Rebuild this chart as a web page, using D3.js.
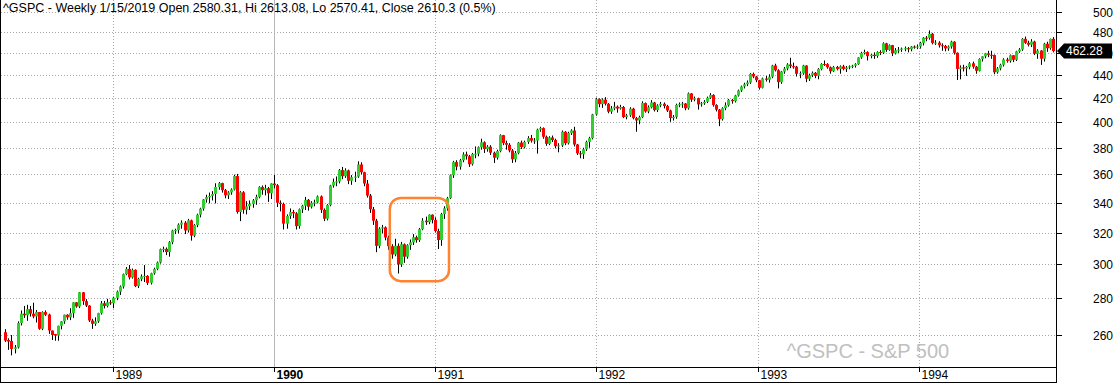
<!DOCTYPE html>
<html>
<head>
<meta charset="utf-8">
<script src="https://cdn.jsdelivr.net/npm/d3@7"></script>
<style>
body { margin: 0; background: #fff; }
svg { display: block; }
text { font-family: "Liberation Sans", Arial, sans-serif; }
</style>
</head>
<body>
<svg id="chart" width="1117" height="383"></svg>
<script>
// weekly bars, first bar is the week of May 2 1988
var firstWeek = new Date(1988, 4, 2)

var opens = [
261.5,257.4,256.9,252.8,253.6,266.4,271.5,270.6,274.0,271.5,
270.0,272.4,263.3,272.4,271.0,262.4,260.5,259.7,264.9,267.3,
270.9,269.5,271.8,277.8,275.5,283.5,278.5,276.0,267.8,266.0,
267.3,271.8,277.3,275.8,277.8,
277.3,280.4,283.9,286.9,294.1,297.3,292.2,296.7,287.1,291.3,
292.8,293.1,289.0,294.7,297.3,301.2,309.4,309.6,307.6,313.8,
321.3,321.6,325.2,326.5,321.4,328.0,318.0,324.9,331.8,335.9,
342.2,343.9,344.7,346.0,351.0,353.7,348.7,345.1,347.1,349.2,
358.8,333.6,347.2,335.1,337.5,339.1,341.6,344.0,351.0,348.7,
350.1,346.5,
353.4,352.2,339.9,339.1,325.8,330.9,333.6,332.7,324.2,335.5,
337.9,341.9,337.2,339.9,340.1,344.3,335.1,329.1,338.4,352.0,
354.6,354.9,363.2,358.7,362.9,355.4,358.0,358.4,367.3,361.6,
353.4,344.9,335.5,327.8,311.5,322.6,323.4,316.8,311.3,306.1,
311.5,300.0,312.5,304.7,311.9,313.7,317.0,315.1,322.2,327.8,
326.8,331.8,
328.3,321.0,315.2,332.2,336.1,343.1,359.4,369.1,365.7,370.5,
374.9,373.5,367.5,375.2,375.4,380.4,384.2,379.0,380.8,376.2,
372.4,377.5,389.8,383.6,382.3,377.9,371.2,376.0,384.0,380.5,
384.5,387.5,385.5,385.6,394.2,395.4,388.5,383.0,388.0,386.0,
381.2,381.8,392.5,383.5,391.5,393.5,382.5,375.7,375.0,378.8,
384.5,387.5,
406.5,419.3,415.1,418.9,415.4,408.8,411.5,413.0,411.4,412.7,
404.4,405.8,411.3,403.5,401.6,404.3,416.0,409.0,412.5,416.5,
410.1,414.0,415.4,413.5,409.8,403.5,404.5,414.5,415.0,415.6,
411.6,424.2,418.9,420.1,414.9,415.8,417.1,420.5,422.9,414.4,
410.5,402.7,411.7,414.1,418.7,417.6,422.4,426.7,430.2,432.1,
433.7,441.3,439.0,
435.7,429.1,437.2,436.1,438.8,448.9,444.6,434.0,443.4,446.1,
449.8,448.3,447.8,441.4,441.8,448.9,437.0,440.2,442.3,439.6,
445.8,450.2,450.1,447.3,443.7,447.6,445.8,448.1,445.8,447.1,
448.1,448.7,450.1,456.2,460.5,461.3,457.5,458.8,457.6,461.3,
460.7,469.5,463.3,467.8,460.0,463.0,463.5,464.5,464.9,463.9,
466.4,466.0,
466.5,469.9,474.9,474.7,478.7,469.8,470.2,467.7,467.0,464.7,
466.4,471.1,460.6,445.8,447.1,446.2,447.6,450.9,447.8,444.1,
454.9,457.3,460.1,458.7,458.5,442.8,446.2,449.6,454.4,453.1,
458.3,454.1,461.9,463.7,473.8,470.0,468.2,471.2,459.7,462.7,
455.1,469.1,464.9,473.8
]

var highs = [
263.1,258.3,260.0,254.8,267.3,273.3,275.8,276.4,275.8,277.6,
273.5,272.4,272.8,273.3,271.5,262.4,260.6,265.0,267.5,271.0,
271.2,274.5,277.9,278.0,283.7,283.7,279.6,276.2,268.7,269.5,
272.0,278.6,278.6,279.8,279.1,
281.0,284.5,287.5,294.5,298.4,299.6,297.5,297.0,292.0,294.0,
299.6,293.5,295.0,298.0,301.8,309.8,311.0,310.5,314.5,321.8,
322.5,326.0,328.0,327.5,329.0,328.5,325.5,332.5,336.5,342.5,
345.5,347.0,348.0,353.6,354.5,354.0,349.5,348.0,350.0,359.8,
360.4,348.0,348.0,341.0,341.5,342.5,345.5,351.5,352.0,352.5,
351.0,353.6,
359.7,353.0,341.5,340.0,332.0,336.0,335.0,333.5,336.0,338.5,
344.0,342.5,341.0,342.0,345.0,345.0,336.0,339.0,352.5,357.0,
358.5,364.0,365.5,364.5,363.5,359.5,362.0,369.7,369.0,362.0,
356.0,346.0,337.0,329.0,323.5,325.0,324.0,318.0,312.5,316.0,
313.0,314.0,313.0,312.5,315.5,319.0,318.0,323.0,329.5,330.5,
332.0,332.0,
330.0,322.5,333.0,337.5,344.0,360.0,370.0,370.5,371.5,376.5,
377.0,374.5,376.0,381.0,381.0,387.0,385.0,382.0,382.0,377.0,
378.5,390.5,390.0,385.5,383.5,379.0,377.5,384.5,385.5,385.5,
389.0,390.0,387.5,395.0,396.5,396.0,389.5,389.0,389.5,387.0,
383.5,393.5,393.0,392.5,394.5,396.5,383.0,377.5,380.0,385.5,
388.5,407.0,
420.5,420.0,420.0,421.0,416.0,413.5,417.0,414.0,414.5,413.5,
407.0,412.5,412.0,404.5,405.5,417.5,416.5,414.0,418.5,417.0,
415.0,417.0,416.5,414.5,410.5,406.0,415.5,416.5,417.0,416.0,
425.0,424.5,421.5,420.5,417.0,418.5,421.5,424.5,423.5,415.0,
411.0,412.5,416.5,419.5,419.5,423.0,427.5,431.0,433.5,435.5,
442.0,442.5,439.5,
436.0,438.0,439.5,441.0,449.5,450.5,445.5,444.0,447.5,451.0,
456.0,451.5,448.5,443.5,449.5,449.0,441.5,443.5,443.0,446.5,
451.0,453.5,451.0,448.0,448.5,448.5,449.0,449.5,448.5,449.0,
449.5,451.0,456.5,461.5,463.5,462.0,459.5,461.0,462.0,463.0,
470.5,470.0,468.5,468.0,465.0,466.0,465.5,466.5,466.0,467.0,
467.5,468.5,
471.0,475.5,476.5,482.0,479.5,472.5,471.5,469.5,468.0,467.5,
472.0,471.5,461.0,449.0,449.5,448.5,452.0,452.5,448.5,455.5,
457.5,460.5,462.5,462.5,459.0,447.5,450.5,455.5,456.0,459.0,
458.5,462.5,465.0,474.5,476.0,472.0,473.5,472.0,464.0,463.0,
470.0,471.0,474.0,475.5
]

var lows = [
256.4,252.3,249.5,250.5,253.0,265.1,269.2,267.6,269.9,269.0,
266.7,262.8,262.6,270.2,260.6,257.4,257.0,257.0,263.0,266.0,
268.2,268.0,269.2,274.8,274.6,276.4,275.2,267.0,263.3,264.9,
266.5,271.0,274.4,275.0,276.4,
274.5,279.0,282.0,285.7,293.5,291.0,291.5,286.5,286.0,290.0,
289.5,287.8,288.0,293.8,296.5,300.5,307.5,305.7,304.7,312.5,
319.0,319.5,322.5,319.0,320.0,314.8,317.0,323.5,330.0,334.5,
340.0,339.5,341.5,339.5,349.0,347.0,343.0,342.5,345.5,348.5,
332.5,327.5,332.5,332.0,335.0,336.5,338.5,343.0,345.5,345.0,
340.5,342.5,
350.0,337.0,334.0,322.0,322.5,329.0,329.5,322.0,322.5,333.0,
335.0,334.5,336.0,337.5,339.5,333.0,327.5,328.0,337.5,350.5,
351.5,353.5,356.5,357.5,353.0,352.5,354.5,357.5,360.0,351.5,
343.5,333.0,325.0,307.5,310.0,319.5,315.0,309.0,303.5,305.0,
294.5,298.5,301.0,303.5,309.0,312.0,313.5,314.0,321.5,325.0,
325.5,326.0,
320.0,309.5,311.5,329.0,334.5,342.5,357.5,363.0,363.5,369.0,
371.0,365.5,366.5,372.0,373.5,378.5,376.0,377.0,374.5,368.5,
371.0,376.5,382.0,378.5,376.5,368.5,369.0,375.0,379.0,379.5,
383.0,384.0,383.0,375.5,392.5,387.0,381.5,382.0,384.5,379.5,
376.5,380.5,382.0,382.5,390.0,381.0,374.5,372.0,371.5,377.5,
380.0,386.5,
405.5,412.5,412.0,414.0,407.5,407.0,410.0,408.0,410.5,403.5,
402.5,404.5,402.5,392.5,398.5,403.5,408.0,407.5,411.5,409.0,
408.5,412.5,411.5,408.5,400.5,401.5,403.0,412.5,412.0,410.0,
410.5,417.0,417.5,410.5,413.0,414.5,416.0,419.5,413.0,409.0,
397.0,401.5,410.0,413.0,415.5,416.5,421.5,425.5,428.5,430.5,
432.5,437.5,434.0,
427.5,428.5,434.5,433.5,437.5,443.5,428.5,432.5,441.5,444.5,
446.5,446.0,439.0,437.5,440.5,434.0,435.0,438.5,437.5,436.5,
444.5,448.5,446.0,441.5,443.0,444.5,441.5,444.5,443.0,445.5,
446.5,447.0,449.5,455.0,459.0,453.5,455.5,455.0,456.0,458.5,
459.5,461.5,462.5,457.5,459.0,460.5,461.5,462.0,461.0,462.0,
464.5,464.0,
464.5,467.5,471.5,473.0,468.5,468.0,465.5,462.5,462.0,462.5,
464.5,459.0,435.9,436.5,443.5,439.5,445.5,446.0,441.5,443.5,
452.5,455.5,456.5,455.0,441.0,441.5,444.5,448.0,451.5,451.5,
452.0,453.0,460.5,462.5,469.0,466.5,466.0,458.5,455.0,449.5,
452.5,461.5,463.5,461.0
]

var closes = [
257.1,256.6,252.8,253.6,266.4,271.5,270.6,274.0,271.5,270.0,
272.4,263.3,272.4,270.9,262.4,260.0,259.7,264.9,267.3,270.9,
269.5,271.8,277.8,275.5,283.5,278.5,276.0,267.8,266.0,267.3,
271.8,277.3,275.8,277.8,277.3,
280.4,283.9,286.9,294.1,297.3,292.2,296.7,287.1,291.3,292.8,
293.1,289.0,294.7,297.3,301.2,309.4,309.6,307.6,313.8,321.3,
321.6,325.2,326.5,321.4,328.0,318.0,324.9,331.8,335.9,342.2,
343.9,344.7,346.0,351.0,353.7,348.7,345.1,347.1,349.2,358.8,
333.6,347.2,335.1,337.5,339.1,341.6,344.0,351.0,348.7,350.1,
346.5,353.4,
352.2,339.9,339.1,325.8,330.9,333.6,332.7,324.2,335.5,337.9,
341.9,337.2,339.9,340.1,344.3,335.1,329.1,338.4,352.0,354.6,
354.9,363.2,358.7,362.9,355.4,358.0,358.4,367.3,361.6,353.4,
344.9,335.5,327.8,311.5,322.6,323.4,316.8,311.3,306.1,311.5,
300.0,312.5,304.7,311.9,313.7,317.0,315.1,322.2,327.8,326.8,
331.8,328.3,
321.0,315.2,332.2,336.1,343.1,359.4,369.1,365.7,370.5,374.9,
373.5,367.5,375.2,375.4,380.4,384.2,379.0,380.8,376.2,372.4,
377.5,389.8,383.6,382.3,377.9,371.2,376.0,384.0,380.5,384.5,
387.5,385.5,385.6,394.2,395.4,388.5,383.0,388.0,386.0,381.2,
381.8,392.5,383.5,391.5,393.5,382.5,375.7,375.0,378.8,384.5,
387.5,406.5,
419.3,415.1,418.9,415.4,408.8,411.5,413.0,411.4,412.7,404.4,
405.8,411.3,403.5,401.6,404.3,416.0,409.0,412.5,416.5,410.1,
414.0,415.4,413.5,409.8,403.5,404.5,414.5,415.0,415.6,411.6,
424.2,418.9,420.1,414.9,415.8,417.1,420.5,422.9,414.4,410.5,
402.7,411.7,414.1,418.7,417.6,422.4,426.7,430.2,432.1,433.7,
441.3,439.0,435.7,
429.1,437.2,436.1,438.8,448.9,444.6,434.0,443.4,446.1,449.8,
448.3,447.8,441.4,441.8,448.9,437.0,440.2,442.3,439.6,445.8,
450.2,450.1,447.3,443.7,447.6,445.8,448.1,445.8,447.1,448.1,
448.7,450.1,456.2,460.5,461.3,457.5,458.8,457.6,461.3,460.7,
469.5,463.3,467.8,460.0,463.0,463.5,464.5,464.9,463.9,466.4,
466.0,466.5,
469.9,474.9,474.7,478.7,469.8,470.2,467.7,467.0,464.7,466.4,
471.1,460.6,445.8,447.1,446.2,447.6,450.9,447.8,444.1,454.9,
457.3,460.1,458.7,458.5,442.8,446.2,449.6,454.4,453.1,458.3,
454.1,461.9,463.7,473.8,470.0,468.2,471.2,459.7,462.7,455.1,
469.1,464.9,473.8,462.28
]

var priceTicks = [260, 280, 300, 320, 340, 360, 380, 400, 420, 440, 460, 480, 500]
var yearTicks = [1989, 1990, 1991, 1992, 1993, 1994]
var lastPrice = 462.28
var titleText = "^GSPC - Weekly 1/15/2019 Open 2580.31, Hi 2613.08, Lo 2570.41, Close 2610.3 (0.5%)"
var watermarkText = "^GSPC - S&P 500"
// highlighted area (dates and price range)
var boxDates = [new Date(1990, 8, 20), new Date(1991, 1, 1)]
var boxPrices = [290, 343.2]

var svg = d3.select('#chart')
var W = 1117, H = 383
var plotRight = 1056, plotBottom = 367, axisBottom = 382

var bars = closes.map(function (c, i) {
    return { date: d3.timeDay.offset(firstWeek, i * 7), o: opens[i], h: highs[i], l: lows[i], c: c }
})

var x = d3.scaleTime()
    .domain([new Date(1988, 3, 20), new Date(1994, 10, 7)])
    .range([0, plotRight])
var y = d3.scaleLog()
    .domain([243.7, 512.6])
    .range([plotBottom, 0])

svg.append('rect').attr('width', W).attr('height', H).attr('fill', '#fff')

// horizontal grid
svg.append('g').selectAll('line').data(priceTicks).enter().append('line')
    .attr('x1', 1).attr('x2', plotRight)
    .attr('y1', d => Math.round(y(d)) + 0.5).attr('y2', d => Math.round(y(d)) + 0.5)
    .attr('stroke', '#a8a8a8').attr('stroke-dasharray', '1,2')

// vertical grid at year starts
svg.append('g').selectAll('line').data(yearTicks).enter().append('line')
    .attr('x1', d => Math.round(x(new Date(d, 0, 1))) + 0.5)
    .attr('x2', d => Math.round(x(new Date(d, 0, 1))) + 0.5)
    .attr('y1', 0).attr('y2', plotBottom)
    .attr('stroke', d => d % 10 == 0 ? '#b8b8b8' : '#a8a8a8')
    .attr('stroke-dasharray', d => d % 10 == 0 ? null : '1,2')

// candles
var gBars = svg.append('g')
gBars.selectAll('line').data(bars).enter().append('line')
    .attr('x1', d => Math.round(x(d.date)) + 0.5)
    .attr('x2', d => Math.round(x(d.date)) + 0.5)
    .attr('y1', d => y(d.h)).attr('y2', d => y(d.l))
    .attr('stroke', '#000').attr('stroke-width', 1)
gBars.selectAll('rect').data(bars).enter().append('rect')
    .attr('x', d => Math.round(x(d.date)) - 1)
    .attr('width', 3)
    .attr('y', d => y(Math.max(d.o, d.c)))
    .attr('height', d => Math.max(1, Math.abs(y(d.o) - y(d.c))))
    .attr('fill', d => d.c >= d.o ? '#33cc33' : '#ff0000')

// highlight box
svg.append('rect')
    .attr('x', x(boxDates[0])).attr('y', y(boxPrices[1]))
    .attr('width', x(boxDates[1]) - x(boxDates[0]))
    .attr('height', y(boxPrices[0]) - y(boxPrices[1]))
    .attr('rx', 11).attr('ry', 11)
    .attr('fill', 'none').attr('stroke', '#ff8330').attr('stroke-width', 2.5)

// watermark
svg.append('text')
    .attr('x', 868).attr('y', 358)
    .attr('text-anchor', 'middle')
    .attr('font-size', '20px').attr('fill', '#c0c0c0')
    .text(watermarkText)

// title
svg.append('text')
    .attr('x', 3).attr('y', 12)
    .attr('font-size', '12.5px').attr('fill', '#000')
    .text(titleText)

// frame lines
svg.append('line').attr('x1', 0.5).attr('x2', 0.5).attr('y1', 0).attr('y2', axisBottom).attr('stroke', '#000')
svg.append('line').attr('x1', plotRight + 0.5).attr('x2', plotRight + 0.5).attr('y1', 0).attr('y2', H).attr('stroke', '#000')
svg.append('line').attr('x1', 0).attr('x2', plotRight + 1).attr('y1', plotBottom + 0.5).attr('y2', plotBottom + 0.5).attr('stroke', '#000')
svg.append('line').attr('x1', 0).attr('x2', plotRight + 1).attr('y1', axisBottom + 0.5).attr('y2', axisBottom + 0.5).attr('stroke', '#000')

// x axis years
var gYears = svg.append('g').selectAll('g').data(yearTicks).enter().append('g')
    .attr('transform', d => `translate(${Math.round(x(new Date(d, 0, 1))) + 0.5},${plotBottom})`)
gYears.append('line').attr('y1', 0).attr('y2', 5).attr('stroke', '#000')
gYears.append('text')
    .attr('x', 2).attr('y', 12)
    .attr('font-size', '12px')
    .attr('font-weight', d => d % 10 == 0 ? 'bold' : null)
    .attr('fill', '#000')
    .text(d => d)

// right price axis (the 460 label sits under the last-price marker, as in the source)
var gPrice = svg.append('g').selectAll('g').data(priceTicks).enter().append('g')
    .attr('transform', d => `translate(${plotRight},${Math.round(y(d)) + 0.5})`)
gPrice.append('line').attr('x1', 0).attr('x2', 6).attr('stroke', '#000')
gPrice.append('text')
    .attr('x', 57).attr('y', 0).attr('dy', '0.35em')
    .attr('text-anchor', 'end')
    .attr('font-size', '12px').attr('fill', '#000')
    .text(d => d)

// last price marker
var ly = y(lastPrice)
svg.append('path')
    .attr('d', `M${plotRight + 1},${ly} L${plotRight + 8},${ly - 7.5} L${plotRight + 56},${ly - 7.5} L${plotRight + 56},${ly + 7.5} L${plotRight + 8},${ly + 7.5} Z`)
    .attr('fill', '#000')
svg.append('text')
    .attr('x', plotRight + 10).attr('y', ly).attr('dy', '0.35em')
    .attr('font-size', '12px').attr('fill', '#fff')
    .text(d3.format('.2f')(lastPrice))
</script>
</body>
</html>
